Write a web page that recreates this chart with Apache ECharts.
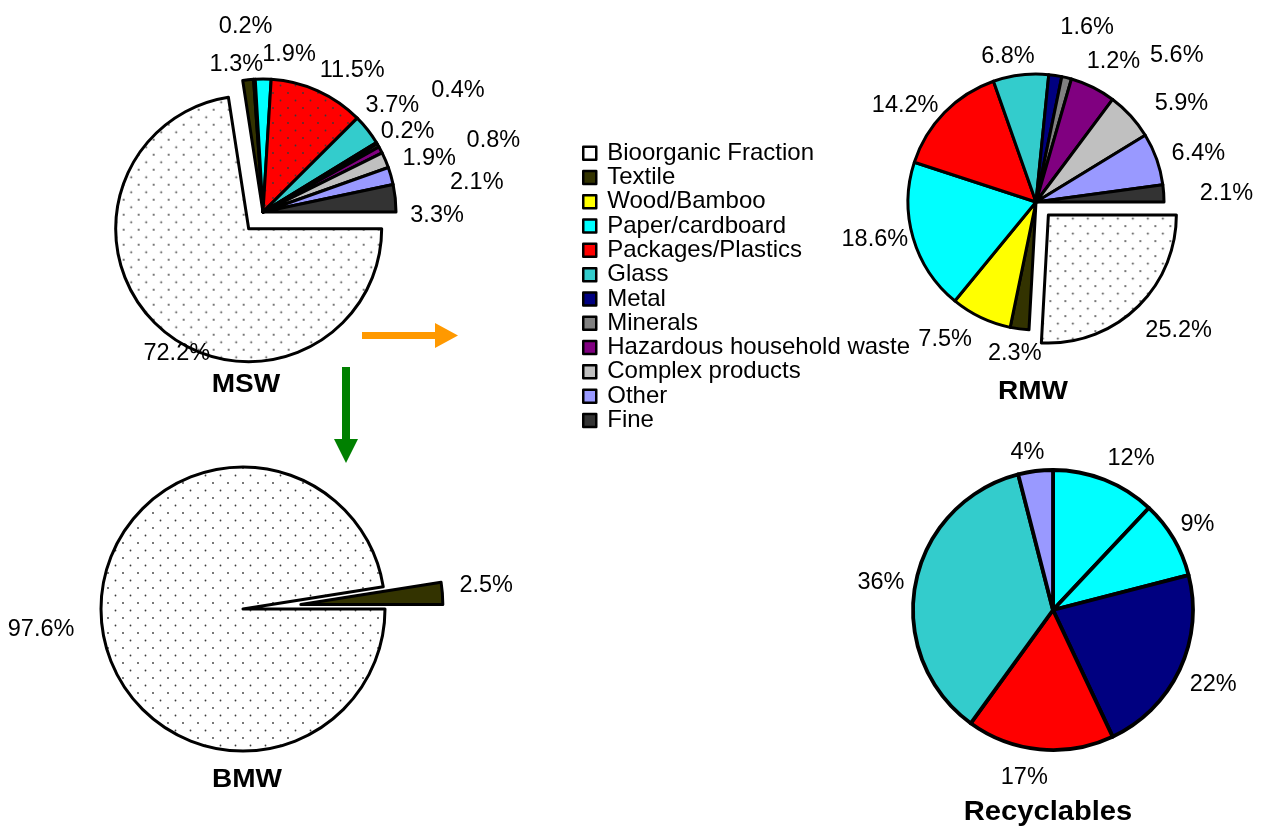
<!DOCTYPE html>
<html>
<head>
<meta charset="utf-8">
<title>Waste composition</title>
<script src="https://cdn.jsdelivr.net/npm/echarts@6/dist/echarts.min.js"></script>
<style>
  html, body { margin: 0; padding: 0; background: #fff; }
  #chart { width: 1268px; height: 828px; }
</style>
</head>
<body>
<div id="chart"></div>
<script>
// Waste fractions (legend order)
const categories = [
  'Bioorganic Fraction', 'Textile', 'Wood/Bamboo', 'Paper/cardboard',
  'Packages/Plastics', 'Glass', 'Metal', 'Minerals',
  'Hazardous household waste', 'Complex products', 'Other', 'Fine'
];

// Composition of municipal solid waste (%)
const mswValues = [72.2, 1.3, 0.2, 1.9, 11.5, 3.7, 0.2, 0.4, 0.8, 1.9, 2.1, 3.3];
// Composition of residual mixed waste (%)
const rmwValues = [25.2, 2.3, 7.5, 18.6, 14.2, 6.8, 1.6, 1.2, 5.6, 5.9, 6.4, 2.1];
// Biodegradable municipal waste (%)
const bmwNames = ['Bioorganic Fraction', 'Textile'];
const bmwValues = [97.6, 2.5];
// Recyclables (%)
const recNames = ['Paper/cardboard', 'Paper/cardboard', 'Metal', 'Packages/Plastics', 'Glass', 'Other'];
const recValues = [12, 9, 22, 17, 36, 4];

const palette = {
  'Bioorganic Fraction': '#FFFFFF',
  'Textile': '#333300',
  'Wood/Bamboo': '#FFFF00',
  'Paper/cardboard': '#00FFFF',
  'Packages/Plastics': '#FF0000',
  'Glass': '#33CCCC',
  'Metal': '#000080',
  'Minerals': '#808080',
  'Hazardous household waste': '#800080',
  'Complex products': '#C0C0C0',
  'Other': '#9999FF',
  'Fine': '#333333'
};

// Sparse dotted fill
function dotted(base) {
  const c = document.createElement('canvas');
  c.width = 15; c.height = 15;
  const g = c.getContext('2d');
  g.fillStyle = base;
  g.fillRect(0, 0, 15, 15);
  g.fillStyle = '#3a3a3a';
  g.beginPath(); g.arc(3, 3, 0.9, 0, Math.PI * 2); g.fill();
  g.beginPath(); g.arc(10.5, 10.5, 0.9, 0, Math.PI * 2); g.fill();
  return { image: c, repeat: 'repeat' };
}

const FONT = '"Liberation Sans", Arial, Helvetica, sans-serif';

// Label nudges [dx, dy] relative to the default outside placement
const mswLabelShift = [[53, 24], [20, -15], [23, -53], [-6, -24], [-3, -20], [-7, -24],
  [-1, -12], [48, -55], [81, -9], [12, -2], [54, 7], [10, 17]];
const rmwLabelShift = [[4, 22], [27, 25], [-4, 22], [0, 2], [-1, -7], [19, -18],
  [0, -48], [15, -16], [52, -32], [19, -12], [10, -6], [31, 0]];
const bmwLabelShift = [[-22, 9], [12, -8]];
const recLabelShift = [[-2, -21], [2, -14], [5, 15], [13, 28], [-6, -1], [14, -19]];

function pieData(names, values, opts) {
  return values.map((v, i) => {
    const name = names[i];
    let color = palette[name];
    if ((opts.dotted || []).indexOf(name) >= 0) color = dotted(color);
    return {
      name: name,
      value: v,
      selected: (opts.exploded || []).indexOf(name) >= 0,
      itemStyle: { color: color }
    };
  });
}

function pieSeries(id, data, center, radius, shifts, extra) {
  return Object.assign({
    type: 'pie',
    id: id,
    center: center,
    radius: radius,
    startAngle: 0,
    clockwise: true,
    data: data,
    avoidLabelOverlap: false,
    selectedMode: 'multiple',
    animation: false,
    emphasis: { disabled: true },
    itemStyle: { borderColor: '#000', borderWidth: 3, borderJoin: 'round' },
    label: {
      show: true,
      position: 'outside',
      formatter: p => p.value + '%',
      fontFamily: FONT,
      fontSize: 23.5,
      color: '#000'
    },
    labelLine: { show: false, length: 0, length2: 0 },
    labelLayout: p => ({ dx: shifts[p.dataIndex][0], dy: shifts[p.dataIndex][1] })
  }, extra || {});
}

const chart = echarts.init(document.getElementById('chart'), null, { renderer: 'canvas' });

function titleText(text, x, y, size, stretch) {
  return {
    type: 'text', x: x, y: y, scaleX: stretch,
    style: {
      text: text, fill: '#000', font: 'bold ' + size + 'px ' + FONT,
      textAlign: 'center', textVerticalAlign: 'middle'
    }
  };
}

chart.setOption({
  backgroundColor: '#fff',
  animation: false,
  legend: {
    orient: 'vertical',
    left: 577,
    top: 136,
    itemWidth: 13,
    itemHeight: 13,
    itemGap: 0,
    icon: 'rect',
    selectedMode: false,
    itemStyle: { borderColor: '#000', borderWidth: 2.5 },
    textStyle: { fontFamily: FONT, fontSize: 24, color: '#000', lineHeight: 24.3, padding: [0, 0, 0, 6] },
    data: categories.map(n => ({ name: n, itemStyle: { color: palette[n] } }))
  },
  series: [
    pieSeries('msw', pieData(categories, mswValues, {
      dotted: ['Bioorganic Fraction', 'Packages/Plastics'], exploded: ['Bioorganic Fraction']
    }), [263, 212], 133, mswLabelShift, { selectedOffset: 22 }),
    pieSeries('rmw', pieData(categories, rmwValues, {
      dotted: ['Bioorganic Fraction'], exploded: ['Bioorganic Fraction']
    }), [1036, 202], 128, rmwLabelShift, { selectedOffset: 18 }),
    pieSeries('bmw', pieData(bmwNames, bmwValues, {
      dotted: ['Bioorganic Fraction'], exploded: ['Textile']
    }), [243, 609], 142, bmwLabelShift, { selectedOffset: 58 }),
    pieSeries('rec', pieData(recNames, recValues, {}), [1053, 610], 140, recLabelShift, {
      startAngle: 90,
      itemStyle: { borderColor: '#000', borderWidth: 3.8, borderJoin: 'round' }
    })
  ],
  graphic: [
    titleText('MSW', 246, 385, 25, 1.12),
    titleText('RMW', 1033, 392, 25, 1.12),
    titleText('BMW', 247, 780, 25, 1.12),
    titleText('Recyclables', 1048, 812, 28, 1.04),
    // flow arrows
    {
      type: 'polygon',
      shape: { points: [[362, 332], [435, 332], [435, 323], [458, 335.5], [435, 348], [435, 339], [362, 339]] },
      style: { fill: '#FF9900' }
    },
    {
      type: 'polygon',
      shape: { points: [[342, 367], [350, 367], [350, 439], [358, 439], [346, 463], [334, 439], [342, 439]] },
      style: { fill: '#008000' }
    }
  ]
});
</script>
</body>
</html>
